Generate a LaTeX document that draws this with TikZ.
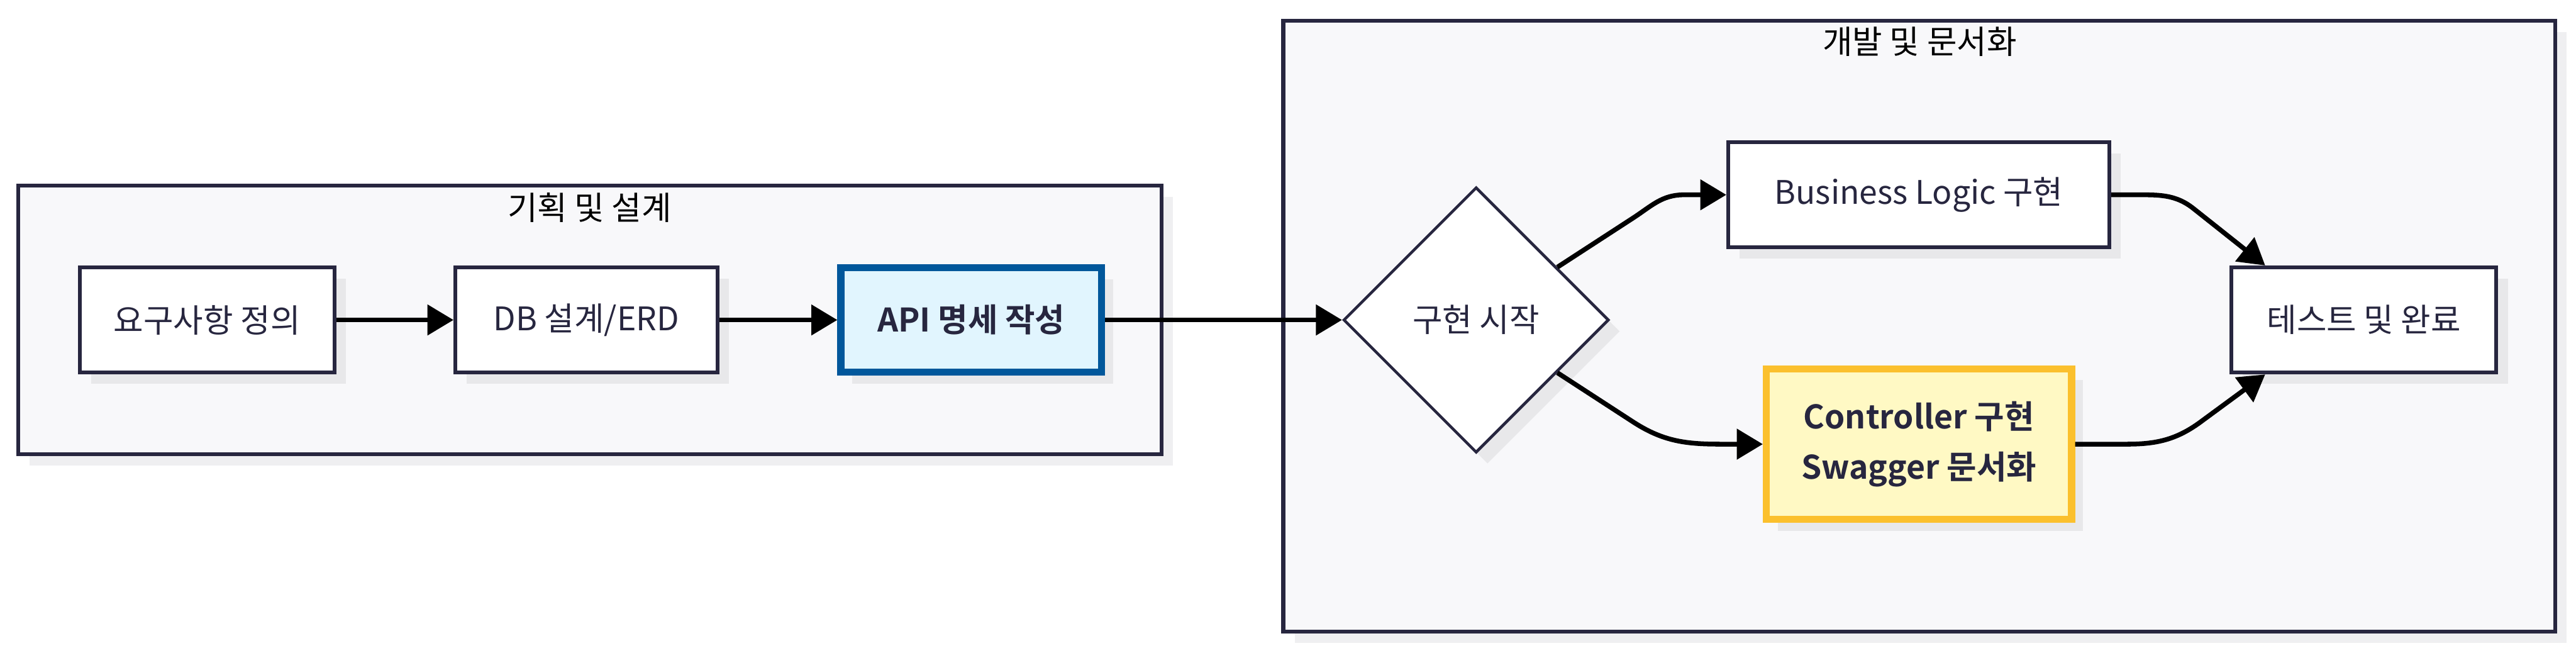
\documentclass[tikz,border=0pt]{standalone}
\usepackage{fontspec}
\setmainfont{Noto Sans CJK KR}[BoldFont={Noto Sans CJK KR Bold}]
\usetikzlibrary{shapes.geometric,arrows.meta,shadows,calc}

\definecolor{inkc}{HTML}{27263F}
\definecolor{clusterbg}{HTML}{F8F8FA}
\definecolor{shadowc}{HTML}{E8E8EA}
\definecolor{outershadow}{HTML}{EFEFF1}
\definecolor{apifill}{HTML}{E1F5FE}
\definecolor{apiline}{HTML}{01579B}
\definecolor{ctrlfill}{HTML}{FFF9C4}
\definecolor{ctrlline}{HTML}{FBC02D}

\begin{document}
\begin{tikzpicture}[
		every node/.style={align=center, font=\fontsize{19.5pt}{30pt}\selectfont, text=inkc},
		cluster/.style={rectangle, draw=inkc, line width=0.08cm, fill=clusterbg,
			drop shadow={shadow xshift=0.24cm, shadow yshift=-0.24cm, fill=outershadow, opacity=1}},
		title/.style={inner sep=0pt, text=black},
		stepbox/.style={rectangle, draw=inkc, line width=0.08cm, fill=white, minimum height=2.22cm,
			drop shadow={shadow xshift=0.24cm, shadow yshift=-0.24cm, fill=shadowc, opacity=1}},
		apibox/.style={stepbox, draw=apiline, fill=apifill, line width=0.15cm,
			font=\fontsize{19.5pt}{30pt}\selectfont\bfseries},
		ctrlbox/.style={stepbox, draw=ctrlline, fill=ctrlfill, line width=0.15cm,
			font=\fontsize{19.5pt}{30pt}\selectfont\bfseries},
		decide/.style={diamond, aspect=1, draw=inkc, line width=0.06cm, fill=white, inner sep=0pt,
			minimum width=5.6cm, minimum height=5.6cm,
			drop shadow={shadow xshift=0.24cm, shadow yshift=-0.24cm, fill=shadowc, opacity=1}},
		flow/.style={line width=0.1cm, -{Triangle[length=0.55cm, width=0.63cm]}}
		]

		\path[use as bounding box, fill=white] (0,0) rectangle (54.36,13.77);

		% Left group: planning
		\node[cluster, minimum width=24.12cm, minimum height=5.66cm] (plan) at (12.45,7.02) {};
		\node[title] (plantitle) at (12.44,9.39) {기획 및 설계};

		% Right group: development
		\node[cluster, minimum width=26.84cm, minimum height=12.88cm] (dev) at (40.50,6.89) {};
		\node[title] (devtitle) at (40.51,12.89) {개발 및 문서화};

		% planning steps
		\node[stepbox, minimum width=5.38cm] (req) at (4.37,7.02) {요구사항 정의};
		\node[stepbox, minimum width=5.53cm] (db) at (12.375,7.02) {DB 설계/ERD};
		\node[apibox, minimum width=5.50cm, minimum height=2.20cm] (api) at (20.495,7.02) {API 명세 작성};

		% development steps
		\node[decide] (dia) at (31.15,7.02) {구현 시작};
		\node[stepbox, minimum width=8.04cm] (biz) at (40.49,9.66) {Business Logic 구현};
		\node[ctrlbox, minimum width=6.44cm, minimum height=3.18cm] (ctrl) at (40.495,4.40) {Controller 구현\\Swagger 문서화};
		\node[stepbox, minimum width=5.59cm] (test) at (49.885,7.02) {테스트 및 완료};

		\coordinate (testin1) at ($(test.north west)+(0.75,0)$);
		\coordinate (testin2) at ($(test.south west)+(0.75,0)$);

		% connectors
		\draw[flow] (req) -- (db);
		\draw[flow] (db) -- (api);
		\draw[flow] (api) -- (dia);
		\draw[flow] (dia.33) -- ++(33:1.9) to[out=33, in=180] ($(biz.west)+(-0.9,0)$) -- (biz.west);
		\draw[flow] (dia.-33) -- ++(-33:1.9) to[out=-33, in=180] ($(ctrl.west)+(-0.9,0)$) -- (ctrl.west);
		\draw[flow] (biz.east) -- ++(0.5,0) to[out=0, in=141] (46.3,9.36) -- (testin1);
		\draw[flow] (ctrl.east) -- ++(1.1,0) to[out=0, in=-143] (46.48,4.90) -- (testin2);

	\end{tikzpicture}
\end{document}
